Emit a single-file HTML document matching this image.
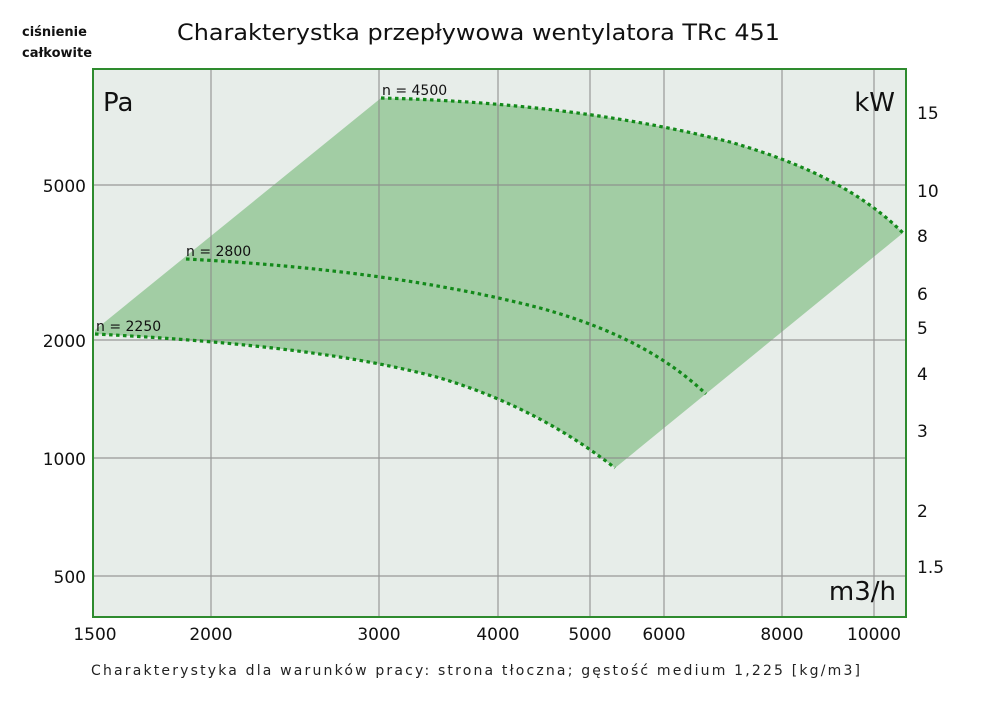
<!DOCTYPE html>
<html><head><meta charset="utf-8"><style>
body{margin:0;background:#fff;width:1000px;height:706px;overflow:hidden;font-family:"DejaVu Sans","Liberation Sans",sans-serif}
</style></head><body>
<svg width="1000" height="706" xmlns="http://www.w3.org/2000/svg" font-family="DejaVu Sans, Liberation Sans, sans-serif">
<rect x="93" y="69" width="813" height="548" fill="#e7ede9"/>
<path d="M95,330 L381,98 C500,101 620,114 730,142 C810,165 865,195 903,233 L615,468 C560,425 500,396 440,378 C360,356 250,342 95,334 Z" fill="#a2cda4"/>
<g stroke="#8a8a8a" stroke-width="1.2" opacity="0.85">
<line x1="211" y1="69" x2="211" y2="617"/><line x1="379" y1="69" x2="379" y2="617"/>
<line x1="498" y1="69" x2="498" y2="617"/><line x1="590" y1="69" x2="590" y2="617"/>
<line x1="664" y1="69" x2="664" y2="617"/><line x1="782" y1="69" x2="782" y2="617"/>
<line x1="874" y1="69" x2="874" y2="617"/>
<line x1="93" y1="185" x2="906" y2="185"/><line x1="93" y1="340" x2="906" y2="340"/>
<line x1="93" y1="458" x2="906" y2="458"/><line x1="93" y1="576" x2="906" y2="576"/>
</g>
<g fill="none" stroke="#138a1a" stroke-width="3.2" stroke-dasharray="3.5 3.5">
<path d="M381,98 C500,101 620,114 730,142 C810,165 865,195 903,233"/>
<path d="M186,259 C320,266 440,282 540,308 C620,330 670,360 706,394"/>
<path d="M95,334 C250,342 360,356 440,378 C500,396 560,425 615,468"/>
</g>
<rect x="93" y="69" width="813" height="548" fill="none" stroke="#2e8b2e" stroke-width="2"/>
<g font-size="14" fill="#111">
<text x="382" y="95">n = 4500</text>
<text x="186" y="256">n = 2800</text>
<text x="96" y="331">n = 2250</text>
</g>
<text x="103" y="111" font-size="26" fill="#111">Pa</text>
<text x="895" y="111" font-size="26" fill="#111" text-anchor="end">kW</text>
<text x="896" y="600" font-size="26" fill="#111" text-anchor="end">m3/h</text>
<g font-size="17" fill="#111" text-anchor="end">
<text x="86" y="192">5000</text><text x="86" y="347">2000</text>
<text x="86" y="465">1000</text><text x="86" y="583">500</text>
</g>
<g font-size="17" fill="#111">
<text x="917" y="119">15</text><text x="917" y="197">10</text><text x="917" y="242">8</text>
<text x="917" y="300">6</text><text x="917" y="334">5</text><text x="917" y="380">4</text>
<text x="917" y="437">3</text><text x="917" y="517">2</text><text x="917" y="573">1.5</text>
</g>
<g font-size="17" fill="#111" text-anchor="middle">
<text x="95" y="640">1500</text><text x="211" y="640">2000</text><text x="379" y="640">3000</text>
<text x="498" y="640">4000</text><text x="590" y="640">5000</text><text x="664" y="640">6000</text>
<text x="782" y="640">8000</text><text x="874" y="640">10000</text>
</g>
<text x="177" y="40" font-size="22" fill="#111" textLength="603" lengthAdjust="spacingAndGlyphs">Charakterystka przepływowa wentylatora TRc 451</text>
<text x="22" y="36" font-size="13" font-weight="bold" fill="#111">ciśnienie</text>
<text x="22" y="57" font-size="13" font-weight="bold" fill="#111">całkowite</text>
<text x="91" y="675" font-size="14" fill="#222" textLength="769" lengthAdjust="spacing">Charakterystyka dla warunków pracy: strona tłoczna; gęstość medium 1,225 [kg/m3]</text>
</svg>
</body></html>
